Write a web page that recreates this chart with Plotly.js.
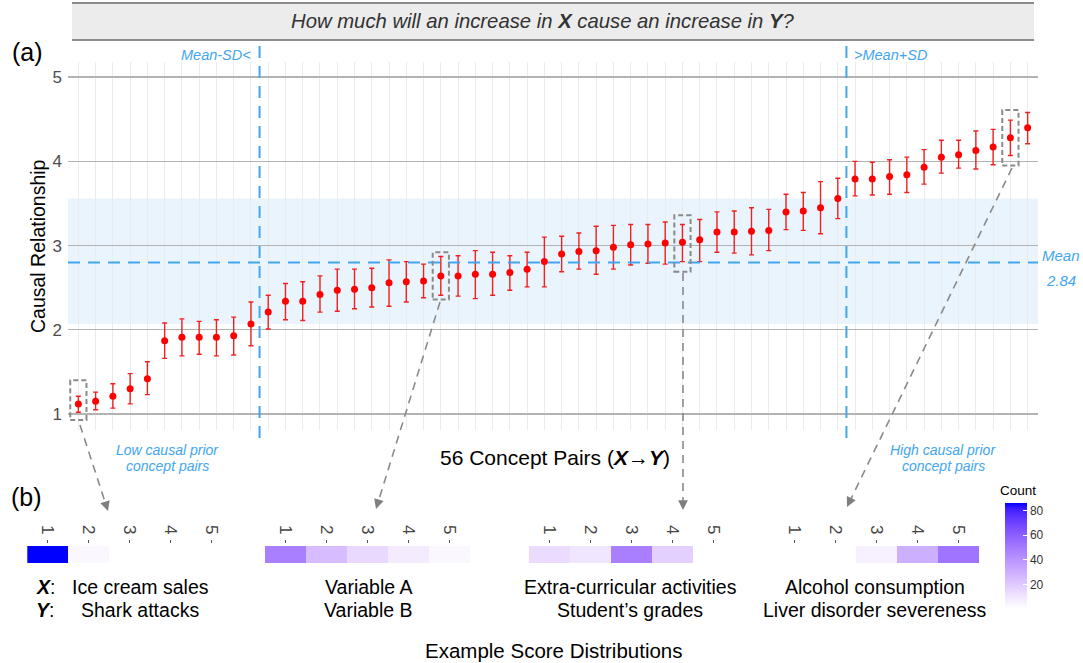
<!DOCTYPE html>
<html>
<head>
<meta charset="utf-8">
<script src="https://cdn.plot.ly/plotly-3.0.1.min.js"></script>
<style>html,body{margin:0;padding:0;background:#fff;}#chart{width:1083px;height:663px;}</style>
</head>
<body>
<div id="chart"></div>
<script>
// ---------- DATA ----------
const pairIndex = Array.from({length: 56}, (_, i) => i + 1);
const meanScore = [1.12,1.15,1.21,1.30,1.42,1.87,1.91,1.91,1.91,1.93,
  2.07,2.21,2.34,2.34,2.42,2.47,2.48,2.50,2.56,2.57,
  2.58,2.64,2.64,2.66,2.66,2.68,2.72,2.81,2.90,2.93,
  2.94,2.98,3.01,3.02,3.03,3.04,3.07,3.16,3.16,3.17,
  3.18,3.40,3.41,3.45,3.56,3.79,3.79,3.82,3.84,3.93,
  4.05,4.08,4.13,4.17,4.28,4.40];
const upperCI = [1.21,1.26,1.36,1.48,1.62,2.08,2.13,2.10,2.12,2.15,
  2.33,2.41,2.55,2.57,2.64,2.72,2.72,2.73,2.83,2.81,
  2.78,2.87,2.88,2.94,2.92,2.88,2.92,3.10,3.11,3.15,
  3.23,3.24,3.25,3.25,3.28,3.25,3.31,3.40,3.41,3.45,
  3.43,3.61,3.63,3.76,3.80,4.00,3.99,4.02,4.05,4.14,
  4.25,4.25,4.36,4.38,4.49,4.58];
const lowerCI = [1.02,1.05,1.07,1.12,1.23,1.66,1.69,1.71,1.69,1.70,
  1.81,2.01,2.12,2.11,2.21,2.22,2.25,2.27,2.28,2.33,
  2.38,2.41,2.40,2.37,2.41,2.47,2.51,2.51,2.69,2.72,
  2.66,2.72,2.77,2.79,2.78,2.81,2.81,2.92,2.91,2.89,
  2.94,3.19,3.18,3.14,3.32,3.59,3.60,3.61,3.63,3.73,
  3.86,3.92,3.91,3.96,4.07,4.21];
const grandMean = 2.80;
const sdLow = 2.07, sdHigh = 3.56;
const cutLow = 11.5, cutHigh = 45.5;

// highlighted pairs and their boxes
const highlightIdx = [1, 22, 36, 55];
const boxLow  = [0.93, 2.36, 2.69, 3.95];
const boxHigh = [1.40, 2.92, 3.36, 4.61];

// example score distributions (counts per score 1..5)
const scoreLevels = [1,2,3,4,5];
const scoreTickText = ['1','2','3','4','5'];
const countsIceCream = [86, 4, 1, null, null];
const countsVariable = [48, 25, 15, 8, 4];
const countsExtra    = [14, 10, 48, 18, null];
const countsAlcohol  = [null, null, 6, 30, 52];
const exampleX = ['Ice cream sales', 'Variable A', 'Extra-curricular activities', 'Alcohol consumption'];
const exampleY = ['Shark attacks', 'Variable B', 'Student\u2019s grades', 'Liver disorder severeness'];
const countTicks = [20, 40, 60, 80];

// ---------- HELPERS ----------
const W = 1083, H = 663;
const px = x => x / W;
const py = y => 1 - y / H;

function labToRgb(L, a, b) {
  const fy = (L + 16) / 116, fx = fy + a / 500, fz = fy - b / 200;
  const f = t => (t * t * t > 0.008856) ? t * t * t : (t - 16 / 116) / 7.787;
  const X = 0.95047 * f(fx), Y = f(fy), Z = 1.08883 * f(fz);
  let r = 3.2406 * X - 1.5372 * Y - 0.4986 * Z;
  let g = -0.9689 * X + 1.8758 * Y + 0.0415 * Z;
  let bb = 0.0557 * X - 0.2040 * Y + 1.0570 * Z;
  const gam = c => { c = Math.max(0, Math.min(1, c)); return c <= 0.0031308 ? 12.92 * c : 1.055 * Math.pow(c, 1 / 2.4) - 0.055; };
  return 'rgb(' + Math.round(gam(r) * 255) + ',' + Math.round(gam(g) * 255) + ',' + Math.round(gam(bb) * 255) + ')';
}
const white = [100, 0, 0], blue = [32.30, 79.19, -107.86];
const colorscale = [];
for (let i = 0; i <= 20; i++) {
  const t = i / 20;
  colorscale.push([t, labToRgb(white[0] + (blue[0] - white[0]) * t, white[1] + (blue[1] - white[1]) * t, white[2] + (blue[2] - white[2]) * t)]);
}

const BLUE = '#42a5f0';
const GRAYDASH = '#8a8a8a';
const FONT = 'Liberation Sans, Arial, sans-serif';

// ---------- TRACES ----------
const traces = [{
  type: 'scatter', mode: 'markers',
  x: pairIndex, y: meanScore,
  marker: {color: '#ff0000', size: 7},
  error_y: {type: 'data', symmetric: false,
    array: upperCI.map((u, i) => u - meanScore[i]),
    arrayminus: lowerCI.map((l, i) => meanScore[i] - l),
    color: '#f02020', thickness: 1.4, width: 2.5},
  xaxis: 'x', yaxis: 'y', hoverinfo: 'skip'
}];

const stripCounts = [countsIceCream, countsVariable, countsExtra, countsAlcohol];
const stripCellLeft = [27.3, 265, 529, 774];
const cellW = 41;
stripCounts.forEach((c, k) => {
  traces.push({
    type: 'heatmap', z: [c], x: scoreLevels, y: [0],
    coloraxis: 'coloraxis', xaxis: 'x' + (k + 2), yaxis: 'y' + (k + 2),
    hoverinfo: 'skip', xgap: 0, ygap: 0
  });
});

// ---------- LAYOUT ----------
const layout = {
  width: W, height: H,
  margin: {l: 0, r: 0, t: 0, b: 0},
  paper_bgcolor: '#ffffff', plot_bgcolor: '#ffffff',
  showlegend: false,
  font: {family: FONT, color: '#000'},
  xaxis: {domain: [px(68), px(1038)], range: [0.4, 56.6], tick0: 1, dtick: 1,
    showticklabels: false, ticks: '', showgrid: true, gridcolor: '#ebebeb', gridwidth: 1,
    zeroline: false, showline: false},
  yaxis: {domain: [py(430), py(62)], range: [0.81, 5.18], tickvals: [1,2,3,4,5],
    showgrid: true, gridcolor: '#b3b3b3', gridwidth: 1.4, zeroline: false, showline: false,
    tickfont: {size: 17, color: '#4d4d4d', family: FONT}, ticks: '', ticklabelstandoff: 5},
  coloraxis: {
    cmin: 1, cmax: 86, colorscale: colorscale, showscale: true,
    colorbar: {x: px(1005), xanchor: 'left', y: py(503), yanchor: 'top',
      thickness: 22, thicknessmode: 'pixels', len: 105, lenmode: 'pixels',
      outlinewidth: 0, xpad: 0, ypad: 0,
      tickvals: countTicks, ticks: 'inside', ticklen: 4, tickcolor: '#ffffff', tickwidth: 1,
      tickfont: {size: 12, color: '#333', family: FONT}}
  },
  shapes: [], annotations: []
};

const cellTop = 546, cellBot = 563, cellH = cellBot - cellTop;
stripCellLeft.forEach((left, k) => {
  const n = k + 2;
  const x0 = left - 0.1 * cellW, x1 = left + 5.1 * cellW;
  layout['xaxis' + n] = {domain: [px(x0), px(x1)], range: [0.4, 5.6], anchor: 'y' + n,
    side: 'top', tickvals: scoreLevels, ticktext: scoreTickText, tickangle: 90,
    ticks: 'outside', ticklen: 3, tickwidth: 1, tickcolor: '#555',
    tickfont: {size: 17, color: '#444', family: FONT},
    showgrid: false, zeroline: false, showline: false};
  layout['yaxis' + n] = {domain: [py(cellBot + 0.1 * cellH), py(cellTop - 0.1 * cellH)], range: [-0.6, 0.6],
    anchor: 'x' + n, showticklabels: false, showgrid: false, zeroline: false, showline: false, ticks: ''};
});

const S = layout.shapes, A = layout.annotations;
const xa0 = 68, xa1 = 1038;
// SD band
S.push({type: 'rect', xref: 'paper', yref: 'y', x0: px(xa0), x1: px(xa1), y0: sdLow, y1: sdHigh,
  fillcolor: '#e9f4fd', line: {width: 0}, layer: 'below'});
// mean line
S.push({type: 'line', xref: 'paper', yref: 'y', x0: px(xa0), x1: px(xa1), y0: grandMean, y1: grandMean,
  line: {color: BLUE, width: 2, dash: '12px,8px'}});
// cut lines
[cutLow, cutHigh].forEach(c => S.push({type: 'line', xref: 'x', yref: 'paper', x0: c, x1: c,
  y0: py(438), y1: py(44), line: {color: BLUE, width: 2, dash: '12px,8px'}}));
// highlight boxes
highlightIdx.forEach((h, i) => S.push({type: 'rect', xref: 'x', yref: 'y', x0: h - 0.47, x1: h + 0.47,
  y0: boxLow[i], y1: boxHigh[i], line: {color: GRAYDASH, width: 2, dash: '5px,3px'}}));
// banner
S.push({type: 'rect', xref: 'paper', yref: 'paper', x0: px(72), x1: px(1034), y0: py(40), y1: py(3),
  fillcolor: '#ececec', line: {width: 0}});
[3, 40].forEach(yy => S.push({type: 'line', xref: 'paper', yref: 'paper', x0: px(72), x1: px(1034),
  y0: py(yy), y1: py(yy), line: {color: '#8c8c8c', width: 2}}));

// arrows (tail -> tip), pixel layout
const arrowPaths = [[80, 425, 108, 511], [440, 302, 376, 509], [683, 273, 683, 510], [1012, 168, 847, 507]];
arrowPaths.forEach(([x0, y0, x1, y1]) => {
  const dx = x1 - x0, dy = y1 - y0, L = Math.hypot(dx, dy);
  const ux = dx / L, uy = dy / L;
  S.push({type: 'line', xref: 'paper', yref: 'paper', x0: px(x0), y0: py(y0),
    x1: px(x1 - ux * 8), y1: py(y1 - uy * 8), line: {color: GRAYDASH, width: 1.6, dash: '8px,6px'}});
  A.push({xref: 'paper', yref: 'paper', x: px(x1), y: py(y1), text: '', showarrow: true,
    ax: -ux * 10, ay: -uy * 10, arrowhead: 2, arrowsize: 1.4, arrowwidth: 1.4, arrowcolor: '#7f7f7f', standoff: 0});
});

function txt(x, y, text, size, opts) {
  A.push(Object.assign({xref: 'paper', yref: 'paper', x: px(x), y: py(y), text: text, showarrow: false,
    xanchor: 'center', yanchor: 'middle', font: {size: size, color: '#000', family: FONT}}, opts || {}));
}
// banner title
txt(543, 21, '<i>How much will an increase in <b>X</b> cause an increase in <b>Y</b>?</i>', 20.3, {font: {size: 20.3, color: '#333', family: FONT}});
txt(10, 52, '(a)', 25, {xanchor: 'left'});
txt(9, 497, '(b)', 25, {xanchor: 'left'});
// y title
txt(38, 246, 'Causal Relationship', 19.5, {textangle: -90});
// x title
txt(555, 457, '56 Concept Pairs (<b><i>X</i>\u2192<i>Y</i></b>)', 21);
// blue notes
const blueFont = s => ({size: s, color: BLUE, family: FONT});
txt(253, 55, '<i>Mean-SD&lt;</i>', 14.5, {xanchor: 'right', font: blueFont(14.5)});
txt(852, 55, '<i>&gt;Mean+SD</i>', 14.5, {xanchor: 'left', font: blueFont(14.5)});
txt(1061, 256, '<i>Mean</i>', 15, {font: blueFont(15)});
txt(1061, 280, '<i>2.84</i>', 15, {font: blueFont(15)});
txt(167, 450, '<i>Low causal prior</i>', 14, {font: blueFont(14)});
txt(167, 466, '<i>concept pairs</i>', 14, {font: blueFont(14)});
txt(943, 450, '<i>High causal prior</i>', 14, {font: blueFont(14)});
txt(943, 466, '<i>concept pairs</i>', 14, {font: blueFont(14)});
// bottom labels
const labelCenters = [140, 368, 630, 875];
exampleX.forEach((t, i) => txt(labelCenters[i], 587, t, 19.5));
exampleY.forEach((t, i) => txt(labelCenters[i], 610, t, 19.5));
txt(34, 587, '<b><i>X</i></b>:', 19.5, {xanchor: 'left'});
txt(34, 610, '<b><i>Y</i></b>:', 19.5, {xanchor: 'left'});
txt(554, 650, 'Example Score Distributions', 20.5);
txt(1018, 490, 'Count', 13.5);

Plotly.newPlot('chart', traces, layout, {staticPlot: true, displayModeBar: false});
</script>
</body>
</html>
